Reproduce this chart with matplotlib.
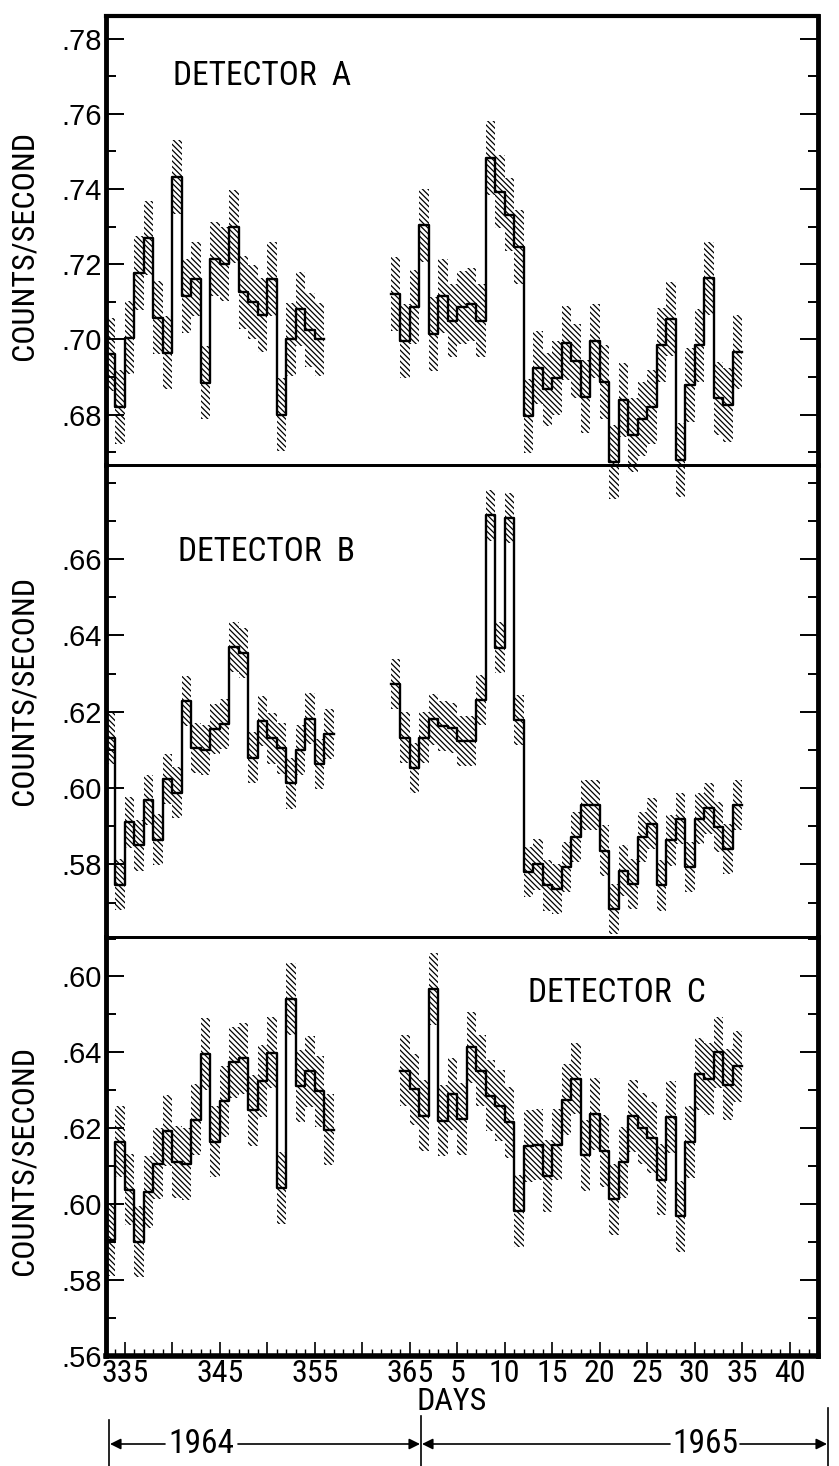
import numpy as np
import matplotlib
matplotlib.use('Agg')
import matplotlib.pyplot as plt
from matplotlib import font_manager as fm
from matplotlib.font_manager import FontProperties
from matplotlib.ticker import MultipleLocator

# ---------------- data (counts / second, one value per day) ----------------
a_days_1964 = list(range(333, 356))
a_vals_1964 = [.696, .682, .7005, .7176, .727, .7058, .6965, .7432, .7115, .716,
               .6885, .7213, .720, .730, .7125, .710, .7065, .716, .680, .700,
               .708, .7025, .700]
a_days_1965 = list(range(363, 400))
a_vals_1965 = [.7121, .6996, .7087, .7303, .7015, .7116, .705, .7085, .7093, .705,
               .7482, .7393, .7332, .7246, .6796, .6925, .6867, .6897, .6991, .6942,
               .6848, .6995, .6887, .6674, .6838, .6745, .6789, .682, .6985, .7055,
               .668, .6879, .6984, .7162, .6843, .6825, .6966]
a_err = .0098

b_days_1964 = list(range(333, 357))
b_vals_1964 = [.613, .5747, .591, .585, .5968, .5865, .6023, .5988, .6228, .6105,
               .610, .6155, .6168, .637, .6353, .608, .6175, .613, .6104, .6012,
               .610, .6182, .6063, .6142]
b_days_1965 = list(range(363, 400))
b_vals_1965 = [.6272, .6132, .6053, .6132, .618, .6162, .6158, .6123, .6123, .623,
               .6714, .6368, .6707, .6179, .578, .580, .5745, .5736, .5793, .5872,
               .5955, .5955, .5836, .5683, .5784, .5749, .5872, .5907, .5745, .5863,
               .592, .5793, .592, .5947, .5898, .5841, .5955]
b_err = .0066

c_days_1964 = list(range(333, 357))
c_vals_1964 = [.5906, .6165, .6038, .5901, .6032, .6107, .6194, .6111, .6106, .6223,
               .6396, .6165, .6271, .6374, .6384, .6247, .6325, .6399, .6043, .6541,
               .6311, .635, .6297, .6196]
c_days_1965 = list(range(364, 400))
c_vals_1965 = [.6352, .6303, .6233, .6567, .622, .629, .6224, .6413, .6352, .6286,
               .626, .6216, .5982, .6153, .6157, .6074, .6157, .6275, .6331, .6129,
               .6238, .614, .6013, .611, .6232, .62, .6175, .6065, .623, .5968,
               .6164, .6343, .633, .64, .6315, .6363]
c_err = .0094

a_ticks = [.68, .70, .72, .74, .76, .78]
a_ticklabels = ['.68', '.70', '.72', '.74', '.76', '.78']
b_ticks = [.58, .60, .62, .64, .66]
b_ticklabels = ['.58', '.60', '.62', '.64', '.66']
c_ticks = [.56, .58, .60, .62, .64, .66]
c_ticklabels = ['.56', '.58', '.60', '.62', '.64', '.60']

x_ticks = [335, 340, 345, 350, 355, 360, 365, 370, 375, 380, 385, 390, 395, 400, 405]
x_ticklabels = ['335', '', '345', '', '355', '', '365', '5', '10', '15', '20',
                '25', '30', '35', '40']

# ---------------- fonts ----------------
names = {f.name for f in fm.fontManager.ttflist}
REG = 'Liberation Sans' if 'Liberation Sans' in names else 'DejaVu Sans'


def find_narrow():
    good = []
    for f in fm.fontManager.ttflist:
        nm = f.name
        narrowish = ('Narrow' in nm or 'Condensed' in nm or
                     str(f.stretch) in ('condensed', 'semi-condensed', 'extra-condensed'))
        if not narrowish or f.style != 'normal':
            continue
        w = f.weight
        if w not in (400, 'normal', 'regular', 'book', 'Book'):
            continue
        if 'Mono' in nm or 'Serif' in nm:
            continue
        good.append(f)
    pref = ['Liberation Sans Narrow', 'Roboto Condensed', 'Open Sans Condensed',
            'DejaVu Sans', 'Noto Sans']
    for p in pref:
        for f in good:
            if f.name == p:
                return FontProperties(fname=f.fname)
    if good:
        return FontProperties(fname=good[0].fname)
    return FontProperties(family=REG)


NARROW_FP = find_narrow()


def nfp(size):
    fp = NARROW_FP.copy()
    fp.set_size(size)
    return fp


# ---------------- figure ----------------
W, H = 839, 1466
fig = plt.figure(figsize=(W / 100, H / 100), dpi=100)
plt.rcParams['hatch.linewidth'] = 0.9
HATCH = '\\' * 6

LEFT, RIGHT = 106, 818
XLIM = (333, 408)


def rect(top, bottom):
    return [LEFT / W, 1 - bottom / H, (RIGHT - LEFT) / W, (bottom - top) / H]


panels = [
    dict(top=16, bottom=465, ylim=(.6666, .786), ticks=a_ticks, tl=a_ticklabels,
         groups=[(a_days_1964, a_vals_1964), (a_days_1965, a_vals_1965)], err=a_err,
         title='DETECTOR  A', txy=(262, 76), ylab_y=245),
    dict(top=465, bottom=937, ylim=(.561, .6846), ticks=b_ticks, tl=b_ticklabels,
         groups=[(b_days_1964, b_vals_1964), (b_days_1965, b_vals_1965)], err=b_err,
         title='DETECTOR  B', txy=(266, 552), ylab_y=690),
    dict(top=937, bottom=1356, ylim=(.5600, .6704), ticks=c_ticks, tl=c_ticklabels,
         groups=[(c_days_1964, c_vals_1964), (c_days_1965, c_vals_1965)], err=c_err,
         title='DETECTOR  C', txy=(617, 993), ylab_y=1160),
]

axes = []
for i, p in enumerate(panels):
    ax = fig.add_axes(rect(p['top'], p['bottom']))
    ax.set_facecolor('none')
    ax.set_xlim(*XLIM)
    ax.set_ylim(*p['ylim'])
    for days, vals in p['groups']:
        x = np.array(list(days) + [days[-1] + 1], dtype=float)
        v = np.array(list(vals) + [vals[-1]], dtype=float)
        ax.fill_between(x, v - p['err'], v + p['err'], step='post', facecolor='none',
                        edgecolor='black', linewidth=0, hatch=HATCH, clip_on=False)
        ax.step(x, v, where='post', color='black', lw=1.7, clip_on=False)
    ax.set_yticks(p['ticks'])
    ax.set_yticklabels(p['tl'], fontsize=21, family=REG)
    ax.yaxis.set_minor_locator(MultipleLocator(0.01))
    ax.tick_params(axis='y', which='major', direction='in', length=13, width=1.4,
                   left=True, right=True, pad=3)
    ax.tick_params(axis='y', which='minor', direction='in', length=7, width=1.4,
                   left=True, right=True)
    for s in ['left', 'right']:
        ax.spines[s].set_linewidth(3.5)
    ax.spines['top'].set_linewidth(3.0 if i == 0 else 2.0)
    ax.spines['bottom'].set_linewidth(4.0 if i == 2 else 2.0)
    if i < 2:
        ax.tick_params(axis='x', which='both', bottom=False, top=False, labelbottom=False)
    else:
        ax.set_xticks(x_ticks)
        ax.set_xticklabels(x_ticklabels)
        for t in ax.get_xticklabels():
            t.set_fontproperties(nfp(23))
        ax.xaxis.set_minor_locator(MultipleLocator(1))
        ax.tick_params(axis='x', which='major', direction='in', length=10, width=1.2,
                       top=False, pad=2)
        ax.tick_params(axis='x', which='minor', direction='in', length=5, width=1.0,
                       top=False)
    fig.text(p['txy'][0] / W, 1 - p['txy'][1] / H, p['title'],
             fontproperties=nfp(24), ha='center', va='center')
    fig.text(24 / W, 1 - p['ylab_y'] / H, 'COUNTS/SECOND', fontproperties=nfp(23),
             rotation=90, ha='center', va='center')
    axes.append(ax)

# ---------------- bottom annotations ----------------
ov = fig.add_axes([0, 0, 1, 1])
ov.set_xlim(0, W)
ov.set_ylim(H, 0)
ov.axis('off')
ov.set_zorder(-1)
ov.text(452, 1401, 'DAYS', fontproperties=nfp(23), ha='center', va='center')
for xv, y0 in [(109, 1420), (421, 1416), (828, 1408)]:
    ov.plot([xv, xv], [y0, H], color='black', lw=1.2)
ar = dict(arrowstyle='-|>', color='black', lw=1.2, mutation_scale=16,
          shrinkA=0, shrinkB=0)
ov.annotate('', xy=(110, 1444), xytext=(165, 1444), arrowprops=ar)
ov.annotate('', xy=(420, 1444), xytext=(238, 1444), arrowprops=ar)
ov.annotate('', xy=(422, 1444), xytext=(670, 1444), arrowprops=ar)
ov.annotate('', xy=(827, 1444), xytext=(740, 1444), arrowprops=ar)
ov.text(201, 1444, '1964', fontproperties=nfp(24), ha='center', va='center')
ov.text(705, 1444, '1965', fontproperties=nfp(24), ha='center', va='center')

fig.savefig('out.png', dpi=100)
